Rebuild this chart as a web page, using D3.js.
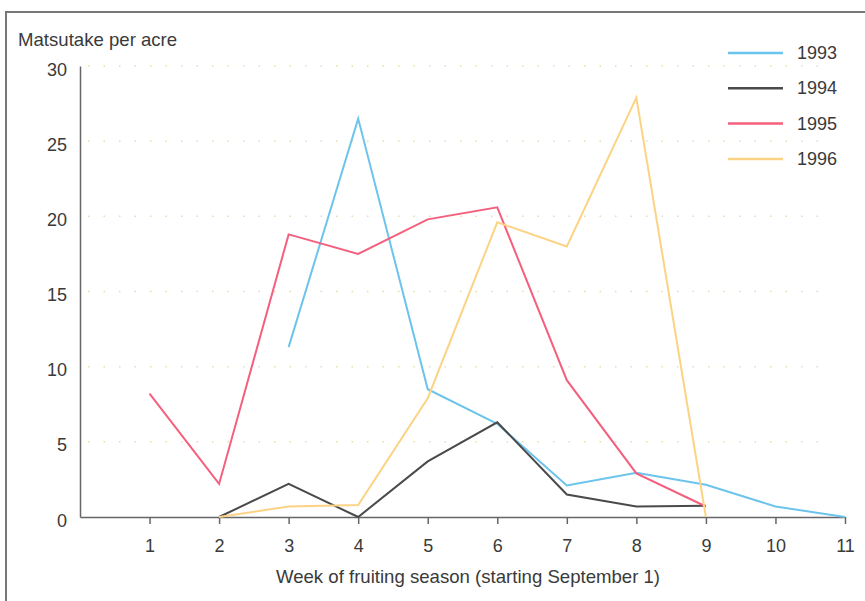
<!DOCTYPE html>
<html>
<head>
<meta charset="utf-8">
<script src="https://cdn.jsdelivr.net/npm/d3@7"></script>
<style>
  body { margin: 0; background: #fff; }
  text { font-family: "Liberation Sans", Arial, sans-serif; fill: #3a3a3a; }
</style>
</head>
<body>
<script>
var w = 865;
var h = 601;
var fontSize = "18px";
var titleSize = "18.6px";

// data
var weeks = [1, 2, 3, 4, 5, 6, 7, 8, 9, 10, 11];
var yTicks = [0, 5, 10, 15, 20, 25, 30];
var years = ["1993", "1994", "1995", "1996"];
var colors = ["#6cc4ec", "#4a4a4a", "#f45f7d", "#fcd384"];

var s1993 = [[3, 11.3], [4, 26.5], [5, 8.5], [6, 6.2], [7, 2.1], [8, 2.95], [9, 2.15], [10, 0.7], [11, 0]];
var s1994 = [[2, 0], [3, 2.2], [4, 0], [5, 3.7], [6, 6.3], [7, 1.5], [8, 0.7], [9, 0.75]];
var s1995 = [[1, 8.2], [2, 2.2], [3, 18.8], [4, 17.5], [5, 19.8], [6, 20.6], [7, 9.1], [8, 2.9], [9, 0.7]];
var s1996 = [[2, 0], [3, 0.7], [4, 0.8], [5, 7.9], [6, 19.6], [7, 18.0], [8, 27.9], [9, 0]];
var series = [s1993, s1994, s1995, s1996];

var svg = d3.select("body").append("svg")
    .attr("width", w)
    .attr("height", h);

// frame
svg.append("rect")
    .attr("x", 6).attr("y", 12)
    .attr("width", w + 10).attr("height", h + 10)
    .attr("fill", "none")
    .attr("stroke", "#777")
    .attr("stroke-width", 2);

var xScale = d3.scaleLinear().domain([0, 11]).range([80, 845]);
var yScale = d3.scaleLinear().domain([0, 30]).range([517, 66]);

// faint dotted gridlines
svg.append("g")
    .selectAll("line")
    .data(yTicks.slice(1))
    .enter()
    .append("line")
    .attr("x1", xScale(0) + 8)
    .attr("x2", xScale(11) - 20)
    .attr("y1", function(d) { return yScale(d); })
    .attr("y2", function(d) { return yScale(d); })
    .attr("stroke", "#ecd9b0")
    .attr("stroke-width", 1.5)
    .attr("stroke-dasharray", "1.5,14");

// y axis
var yAxis = d3.axisLeft(yScale).tickValues(yTicks).tickSize(0).tickPadding(13);
var gy = svg.append("g")
    .attr("transform", "translate(" + xScale(0) + ",0)")
    .call(yAxis);
gy.select(".domain").attr("stroke", "#666").attr("stroke-width", 1.5);
gy.selectAll("text").attr("font-size", fontSize).attr("fill", "#3a3a3a")
    .attr("dy", "0.5em")
    .attr("font-family", "Liberation Sans, Arial, sans-serif");

// x axis
var xAxis = d3.axisBottom(xScale).tickValues(weeks).tickSize(7).tickPadding(15).tickSizeOuter(0);
var gx = svg.append("g")
    .attr("transform", "translate(0," + yScale(0) + ")")
    .call(xAxis);
gx.select(".domain").attr("stroke", "#666").attr("stroke-width", 1.5);
gx.selectAll(".tick line").attr("stroke", "#666").attr("stroke-width", 1.5);
gx.selectAll("text").attr("font-size", fontSize).attr("fill", "#3a3a3a")
    .attr("font-family", "Liberation Sans, Arial, sans-serif");

// axis titles
svg.append("text")
    .attr("x", 18).attr("y", 46)
    .attr("font-size", titleSize)
    .text("Matsutake per acre");

svg.append("text")
    .attr("x", 468).attr("y", 583)
    .attr("text-anchor", "middle")
    .attr("font-size", titleSize)
    .text("Week of fruiting season (starting September 1)");

// lines
var line = d3.line()
    .x(function(d) { return xScale(d[0]); })
    .y(function(d) { return yScale(d[1]); });

svg.append("g")
    .selectAll("path")
    .data(series)
    .enter()
    .append("path")
    .attr("d", line)
    .attr("fill", "none")
    .attr("stroke", function(d, i) { return colors[i]; })
    .attr("stroke-width", 2)
    .attr("stroke-linejoin", "miter");

// legend
var legend = svg.append("g")
    .selectAll("g")
    .data(years)
    .enter()
    .append("g")
    .attr("transform", function(d, i) { return "translate(728," + (53 + i * 35.3) + ")"; });

legend.append("line")
    .attr("x1", 0).attr("x2", 55)
    .attr("stroke", function(d, i) { return colors[i]; })
    .attr("stroke-width", 2.5);

legend.append("text")
    .attr("x", 69).attr("y", 6)
    .attr("font-size", fontSize)
    .text(function(d) { return d; });
</script>
</body>
</html>
